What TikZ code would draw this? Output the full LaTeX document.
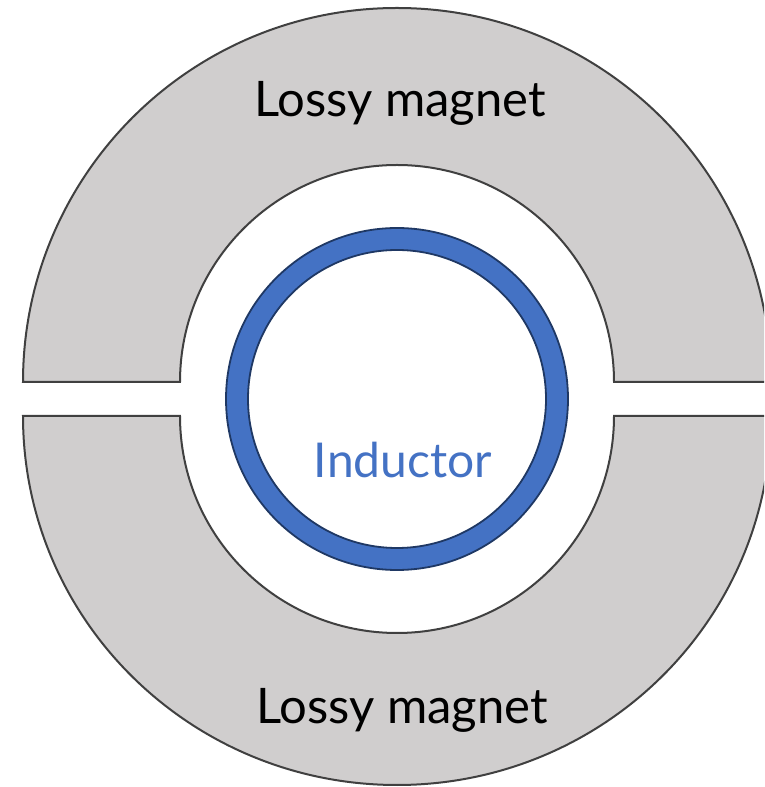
\documentclass[tikz,border=0pt]{standalone}
\usepackage{fontspec}
\setmainfont{Lato}
\usepackage{xcolor}
\definecolor{magnetgray}{HTML}{D0CECE}
\definecolor{edgegray}{HTML}{404040}
\definecolor{coilblue}{HTML}{4472C4}
\definecolor{coiledge}{HTML}{1F3864}
\begin{document}
\begin{tikzpicture}[x=1pt,y=1pt,
    magnet/.style={fill=magnetgray,draw=edgegray,line width=2pt,line join=miter},
    label/.style={font=\fontsize{49}{54}\selectfont,inner sep=0pt}]
			\useasboundingbox (0,0) rectangle (764,787);
			\clip (0,0) rectangle (764,787);
			% Draw magnets
			\draw [magnet] (23,405) arc[start angle=180,end angle=0,x radius=374,y radius=374]
				-- (614,405) arc[start angle=0,end angle=180,radius=217] -- cycle;
			\draw [magnet] (23,371) arc[start angle=180,end angle=360,x radius=374,y radius=369]
				-- (614,371) arc[start angle=360,end angle=180,radius=217] -- cycle;
			% Draw inductor
			\draw [fill=coilblue,draw=coiledge,line width=1.8pt,even odd rule]
				(397,388) circle[radius=171] (397,388) circle[radius=149];
			% Labels
			\node [label] (topmagnet) at (400,684) {Lossy magnet};
			\node [label] (botmagnet) at (402,77) {Lossy magnet};
			\node [label,text=coilblue,font=\fontsize{48}{53}\selectfont] (coil) at (403,327) {Inductor};
		\end{tikzpicture}
\end{document}
